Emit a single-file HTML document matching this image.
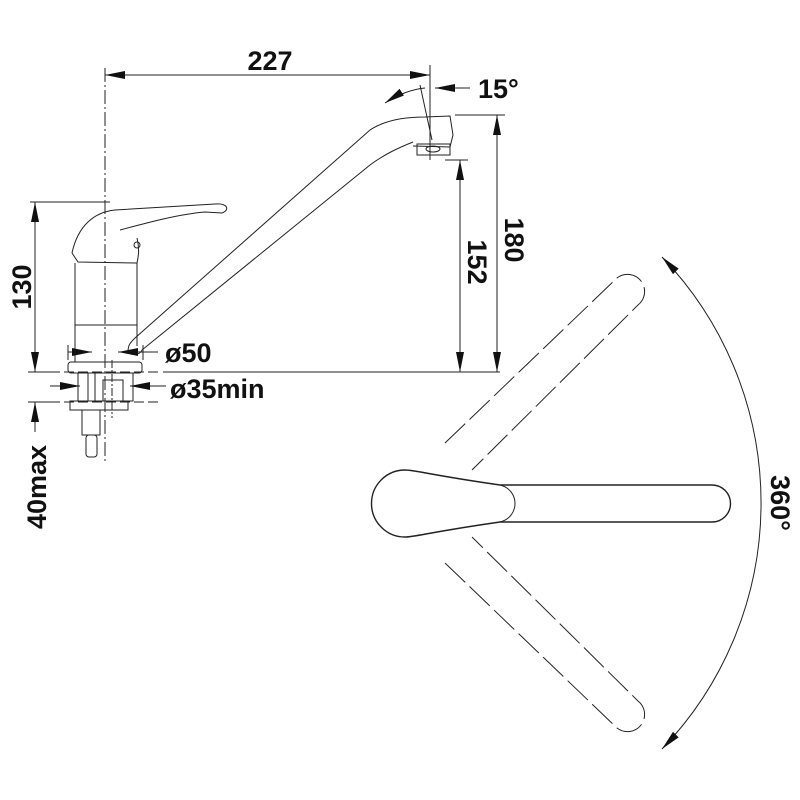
<!DOCTYPE html>
<html><head><meta charset="utf-8"><style>html,body{margin:0;padding:0;background:#fff}svg{display:block}text{font-family:"Liberation Sans",sans-serif;font-weight:bold;fill:#111}</style></head><body>
<svg width="800" height="800" viewBox="0 0 800 800" xmlns="http://www.w3.org/2000/svg">
<defs>
<marker id="a" viewBox="0 0 20 8" refX="20" refY="4" markerWidth="20" markerHeight="8" markerUnits="userSpaceOnUse" orient="auto-start-reverse"><path d="M0,0 L20,4 L0,8 z" fill="#111"/></marker>
</defs>
<g stroke="#222" stroke-width="1" fill="none">
<line x1="105" y1="68" x2="105" y2="462" stroke-dasharray="14,3,2,3"/>
<line x1="105" y1="75" x2="430" y2="75" marker-start="url(#a)" marker-end="url(#a)"/>
<line x1="430" y1="65" x2="430" y2="160"/>
<line x1="420" y1="85" x2="432" y2="140"/>
<path d="M385,103 Q405,90 425,88" marker-start="url(#a)"/>
<line x1="435" y1="88" x2="470" y2="88" marker-start="url(#a)"/>
<line x1="455" y1="115" x2="505" y2="115"/>
<line x1="445" y1="160" x2="468" y2="160"/>
<line x1="497" y1="115" x2="497" y2="372" marker-start="url(#a)" marker-end="url(#a)"/>
<line x1="460" y1="160" x2="460" y2="372" marker-start="url(#a)" marker-end="url(#a)"/>
<line x1="163" y1="372" x2="500" y2="372"/>
<line x1="28" y1="372" x2="60" y2="372"/>
<line x1="50" y1="372" x2="160" y2="372" stroke-dasharray="10,4"/>
<line x1="28" y1="402" x2="60" y2="402"/>
<line x1="50" y1="402" x2="160" y2="402" stroke-dasharray="10,4"/>
<line x1="30" y1="202" x2="110" y2="202"/>
<line x1="35" y1="202" x2="35" y2="372" marker-start="url(#a)" marker-end="url(#a)"/>
<line x1="35" y1="402" x2="35" y2="432" marker-start="url(#a)"/>
<path d="M72,253 C78,225 95,212 115,210 L215,204 C228,203 230,210 222,213 L205,212 C180,214 150,222 120,230"/>
<path d="M137,238 C140,250 138,258 137,263"/>
<path d="M72,253 L78,262 L137,263"/>
<circle cx="137" cy="245" r="3"/>
<path d="M75,263 L75,362 M137,263 L137,346"/>
<line x1="75" y1="325" x2="137" y2="325"/>
<rect x="68" y="362" width="74" height="11" rx="3"/>
<rect x="78" y="373" width="55" height="28"/>
<line x1="88" y1="373" x2="88" y2="401"/><line x1="95" y1="373" x2="95" y2="401"/>
<rect x="103" y="380" width="20" height="21"/>
<line x1="112" y1="360" x2="112" y2="418" stroke-dasharray="8,2,2,2"/>
<rect x="70" y="401" width="58" height="9"/>
<rect x="82" y="410" width="18" height="25"/>
<rect x="86" y="435" width="11" height="22" rx="3"/>
<path d="M128,352 C128,345 130,343 135,338 L370,130 C385,120 405,117 425,117 L450,116 L453,135 L450,147 L413,146"/>
<path d="M142,350 L370,165 C385,154 398,148 413,142"/>
<path d="M128,352 C132,356 140,355 142,350"/>
<rect x="417" y="144" width="33" height="11"/>
<ellipse cx="433" cy="149" rx="7" ry="3"/>
<line x1="68" y1="345" x2="68" y2="360"/><line x1="143" y1="345" x2="143" y2="360"/>
<line x1="68" y1="352" x2="92" y2="352" marker-end="url(#a)"/>
<line x1="118" y1="352" x2="143" y2="352" marker-start="url(#a)"/>
<line x1="143" y1="352" x2="158" y2="352"/>
<line x1="50" y1="386" x2="80" y2="386" marker-end="url(#a)"/>
<line x1="130" y1="386" x2="166" y2="386" marker-start="url(#a)"/>
<path d="M405,470 C415,470 430,475 500,485 L712,485 A18.5,18.5 0 0 1 712,522 L500,522 C430,532 415,537 405,537 A33,33 0 0 1 405,470 Z" stroke-width="1.4"/>
<path d="M500,485 C520,490 520,517 500,522" />
<g stroke-dasharray="28,6">
<path d="M445,443 L617,278 A14,14 0 0 1 638,305 L472,470"/>
<path d="M445,563 L617,728 A14,14 0 0 0 638,701 L472,537"/>
</g>
<path d="M662,257 A355,355 0 0 1 662,749" marker-start="url(#a)" marker-end="url(#a)"/>
</g>
<text x="270" y="70" font-size="27" text-anchor="middle">227</text>
<text x="478" y="98" font-size="27">15°</text>
<text x="165" y="362" font-size="27">ø50</text>
<text x="170" y="398" font-size="27">ø35min</text>
<text transform="translate(505,240) rotate(90)" font-size="27" text-anchor="middle">180</text>
<text transform="translate(468,262) rotate(90)" font-size="27" text-anchor="middle">152</text>
<text transform="translate(31,287) rotate(-90)" font-size="27" text-anchor="middle">130</text>
<text transform="translate(46,487) rotate(-90)" font-size="27" text-anchor="middle">40max</text>
<text transform="translate(771,503) rotate(90)" font-size="27" text-anchor="middle">360°</text>
</svg>
</body></html>
